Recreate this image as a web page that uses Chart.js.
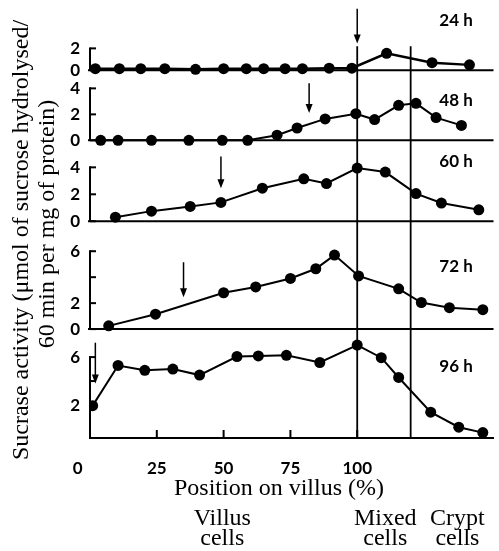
<!DOCTYPE html>
<html>
<head>
<meta charset="utf-8">
<script src="https://cdn.jsdelivr.net/npm/chart.js@4/dist/chart.umd.min.js"></script>
<style>
    html, body { margin: 0; padding: 0; background: #fff; }
    canvas { display: block; }
</style>
</head>
<body>
<canvas id="villusChart" width="499" height="551"></canvas>
<script>
// Sucrase activity along the villus, one panel per age (top to bottom)
const pos24 = [2, 11, 19, 28, 39.5, 50, 58.5, 65, 73, 79.5, 89.5, 98, 111, 128, 142];
const act24 = [0.15, 0.15, 0.15, 0.15, 0.1, 0.15, 0.15, 0.15, 0.15, 0.15, 0.2, 0.2, 1.55, 0.7, 0.5];

const pos48 = [4, 10.5, 23, 37, 49.5, 59, 70, 77.5, 88, 99.5, 106.5, 115.5, 122, 129.5, 139];
const act48 = [0, 0, 0, 0, 0, 0, 0.4, 0.95, 1.65, 2.05, 1.6, 2.7, 2.85, 1.75, 1.15];

const pos60 = [9.5, 23, 37.5, 49, 64.5, 80, 88.5, 100, 110.5, 122, 131.5, 145.5];
const act60 = [0.3, 0.75, 1.1, 1.4, 2.45, 3.15, 2.8, 3.95, 3.65, 2.05, 1.35, 0.85];

const pos72 = [7, 24.5, 50, 62, 75, 84.5, 91.5, 100.5, 115.5, 124, 134.5, 147];
const act72 = [0.25, 1.15, 2.8, 3.25, 3.9, 4.65, 5.7, 4.1, 3.1, 2.05, 1.65, 1.5];

const pos96 = [1, 10.5, 20.5, 31, 41, 55, 63, 73.5, 86, 100, 109, 115.5, 127.5, 138, 147];
const act96 = [1.95, 5.3, 4.9, 5.0, 4.5, 6.05, 6.1, 6.15, 5.55, 7.0, 5.95, 4.3, 1.4, 0.15, -0.3];

const panelIds = ['y24', 'y48', 'y60', 'y72', 'y96'];
const panelLabels = ['24 h', '48 h', '60 h', '72 h', '96 h'];
const panelTicks = [[0, 2], [0, 2, 4], [0, 2, 4], [0, 2, 4, 6], [2, 4, 6]];
const panelTickLabels = [['0', '2'], ['0', '2', '4'], ['0', '2', '4'], ['0', '2', '', '6'], ['2', '', '6']];
const xTicks = [0, 25, 50, 75, 100];

// arrow (start of villus region marker) per panel
const arrowX = [100, 82, 49, 35, 2];
const arrowFrom = [5.6, 4.4, 4.8, 5.15, 7.2];
const arrowTo = [2.45, 2.1, 2.45, 2.45, 3.8];
const dividers = [100, 120];

// panel ranges and heights
const panelMin = [-0.55, -0.46, -0.52, -0.54, -0.75];
const panelMax = [5.9, 4.92, 5.56, 7.77, 7.75];
const panelWeight = [71, 70, 82, 108, 102];
const labelY = [4.5, 3.1, 4.4, 4.8, 5.25];

const series = [[pos24, act24], [pos48, act48], [pos60, act60], [pos72, act72], [pos96, act96]];

const tickFont = { family: 'Lato', size: 17, weight: 'bold' };
const serif = '24px "Liberation Serif"';

function line(ctx, x1, y1, x2, y2) {
    ctx.beginPath();
    ctx.moveTo(x1, y1);
    ctx.lineTo(x2, y2);
    ctx.stroke();
}

const panelDecor = {
    id: 'panelDecor',
    beforeDatasetsDraw(chart) {
        const { ctx, chartArea, scales } = chart;
        const x = scales.x;
        ctx.save();
        ctx.strokeStyle = '#000';
        ctx.fillStyle = '#000';

        panelIds.forEach((id, i) => {
            const y = scales[id];
            const ticks = panelTicks[i];
            const top = y.getPixelForValue(ticks[ticks.length - 1]);
            const bottom = i === 4 ? chartArea.bottom : y.getPixelForValue(0);
            ctx.lineWidth = 2;
            line(ctx, chartArea.left, top - 1, chartArea.left, bottom);
            ticks.forEach(v => {
                const py = y.getPixelForValue(v);
                line(ctx, chartArea.left, py, chartArea.left + 6, py);
            });
            if (i < 4) {
                const y0 = y.getPixelForValue(0);
                line(ctx, chartArea.left - 2, y0, chartArea.right, y0);
            }

            // arrow
            const ax = x.getPixelForValue(arrowX[i]);
            const a1 = y.getPixelForValue(arrowFrom[i]);
            const a2 = y.getPixelForValue(arrowTo[i]);
            ctx.lineWidth = 1.5;
            line(ctx, ax, a1, ax, a2 - 6);
            ctx.beginPath();
            ctx.moveTo(ax - 3.5, a2 - 9);
            ctx.lineTo(ax + 3.5, a2 - 9);
            ctx.lineTo(ax, a2);
            ctx.closePath();
            ctx.fill();
        });

        // cell-region dividers
        ctx.lineWidth = 1.8;
        const dTop = scales.y24.getPixelForValue(2.2);
        dividers.forEach(v => {
            const px = x.getPixelForValue(v);
            line(ctx, px, dTop, px, chartArea.bottom);
        });

        // inward x ticks
        ctx.lineWidth = 2;
        xTicks.slice(1).forEach(v => {
            const px = x.getPixelForValue(v);
            line(ctx, px, chartArea.bottom, px, chartArea.bottom - 8);
        });
        ctx.restore();
    },
    afterDraw(chart) {
        const { ctx, scales } = chart;
        const x = scales.x;
        ctx.save();
        ctx.fillStyle = '#000';

        // panel labels
        ctx.font = 'bold 17px Lato';
        ctx.textAlign = 'center';
        ctx.textBaseline = 'middle';
        panelIds.forEach((id, i) => {
            ctx.fillText(panelLabels[i], x.getPixelForValue(137), scales[id].getPixelForValue(labelY[i]));
        });

        // y title
        ctx.font = serif;
        ctx.save();
        ctx.translate(22, 240);
        ctx.rotate(-Math.PI / 2);
        ctx.fillText('Sucrase activity (\u03bcmol of sucrose hydrolysed/', 0, 0);
        ctx.restore();
        ctx.save();
        ctx.translate(48, 224);
        ctx.rotate(-Math.PI / 2);
        ctx.fillText('60 min per mg of protein)', 0, 0);
        ctx.restore();

        // x title and region names
        ctx.fillText('Position on villus (%)', 279, 489);
        ctx.fillText('Villus', x.getPixelForValue(49.5), 519);
        ctx.fillText('cells', x.getPixelForValue(49.5), 539);
        ctx.fillText('Mixed', x.getPixelForValue(110.5), 519);
        ctx.fillText('cells', x.getPixelForValue(110.5), 539);
        ctx.fillText('Crypt', x.getPixelForValue(137.5), 519);
        ctx.fillText('cells', x.getPixelForValue(137.5), 539);
        ctx.restore();
    }
};

function yScale(i) {
    return {
        type: 'linear',
        position: 'left',
        stack: 'panels',
        stackWeight: panelWeight[i],
        min: panelMin[i],
        max: panelMax[i],
        grid: { display: false, drawTicks: false },
        border: { display: false },
        afterBuildTicks: axis => {
            axis.ticks = panelTicks[i].map(v => ({ value: v }));
        },
        ticks: {
            color: '#000',
            font: tickFont,
            padding: 10,
            autoSkip: false,
            callback: (value, index) => panelTickLabels[i][index]
        },
        afterFit: scale => {
            scale.width = 30;
            scale.paddingTop = 0;
            scale.paddingBottom = 0;
        }
    };
}

const datasets = series.map((s, i) => ({
    label: panelLabels[i],
    yAxisID: panelIds[i],
    data: s[0].map((p, k) => ({ x: p, y: s[1][k] })),
    borderColor: '#000',
    backgroundColor: '#000',
    borderWidth: i === 0 ? 2.5 : 2,
    pointRadius: 5.5,
    pointBackgroundColor: '#000',
    pointBorderWidth: 0,
    tension: 0
}));

// left scales stack in reverse order of definition, so the bottom panel goes first
const scales = {
    x: {
        type: 'linear',
        position: 'bottom',
        min: 0,
        max: 151,
        grid: { display: false, drawTicks: false },
        border: { display: true, color: '#000', width: 2 },
        afterBuildTicks: axis => {
            axis.ticks = xTicks.map(v => ({ value: v }));
        },
        ticks: {
            color: '#000',
            font: tickFont,
            padding: 20,
            maxRotation: 0,
            autoSkip: false,
            callback: value => value === 0 ? '0      ' : String(value)
        },
        afterFit: scale => {
            scale.height = 40;
        }
    }
};
for (let i = 4; i >= 0; i--) {
    scales[panelIds[i]] = yScale(i);
}

new Chart(document.getElementById('villusChart'), {
    type: 'line',
    data: { datasets: datasets },
    options: {
        responsive: false,
        animation: false,
        devicePixelRatio: 1,
        layout: { padding: { left: 60, right: 1, top: 5, bottom: 73 } },
        plugins: {
            legend: { display: false },
            tooltip: { enabled: false }
        },
        scales: scales
    },
    plugins: [panelDecor]
});
</script>
</body>
</html>
